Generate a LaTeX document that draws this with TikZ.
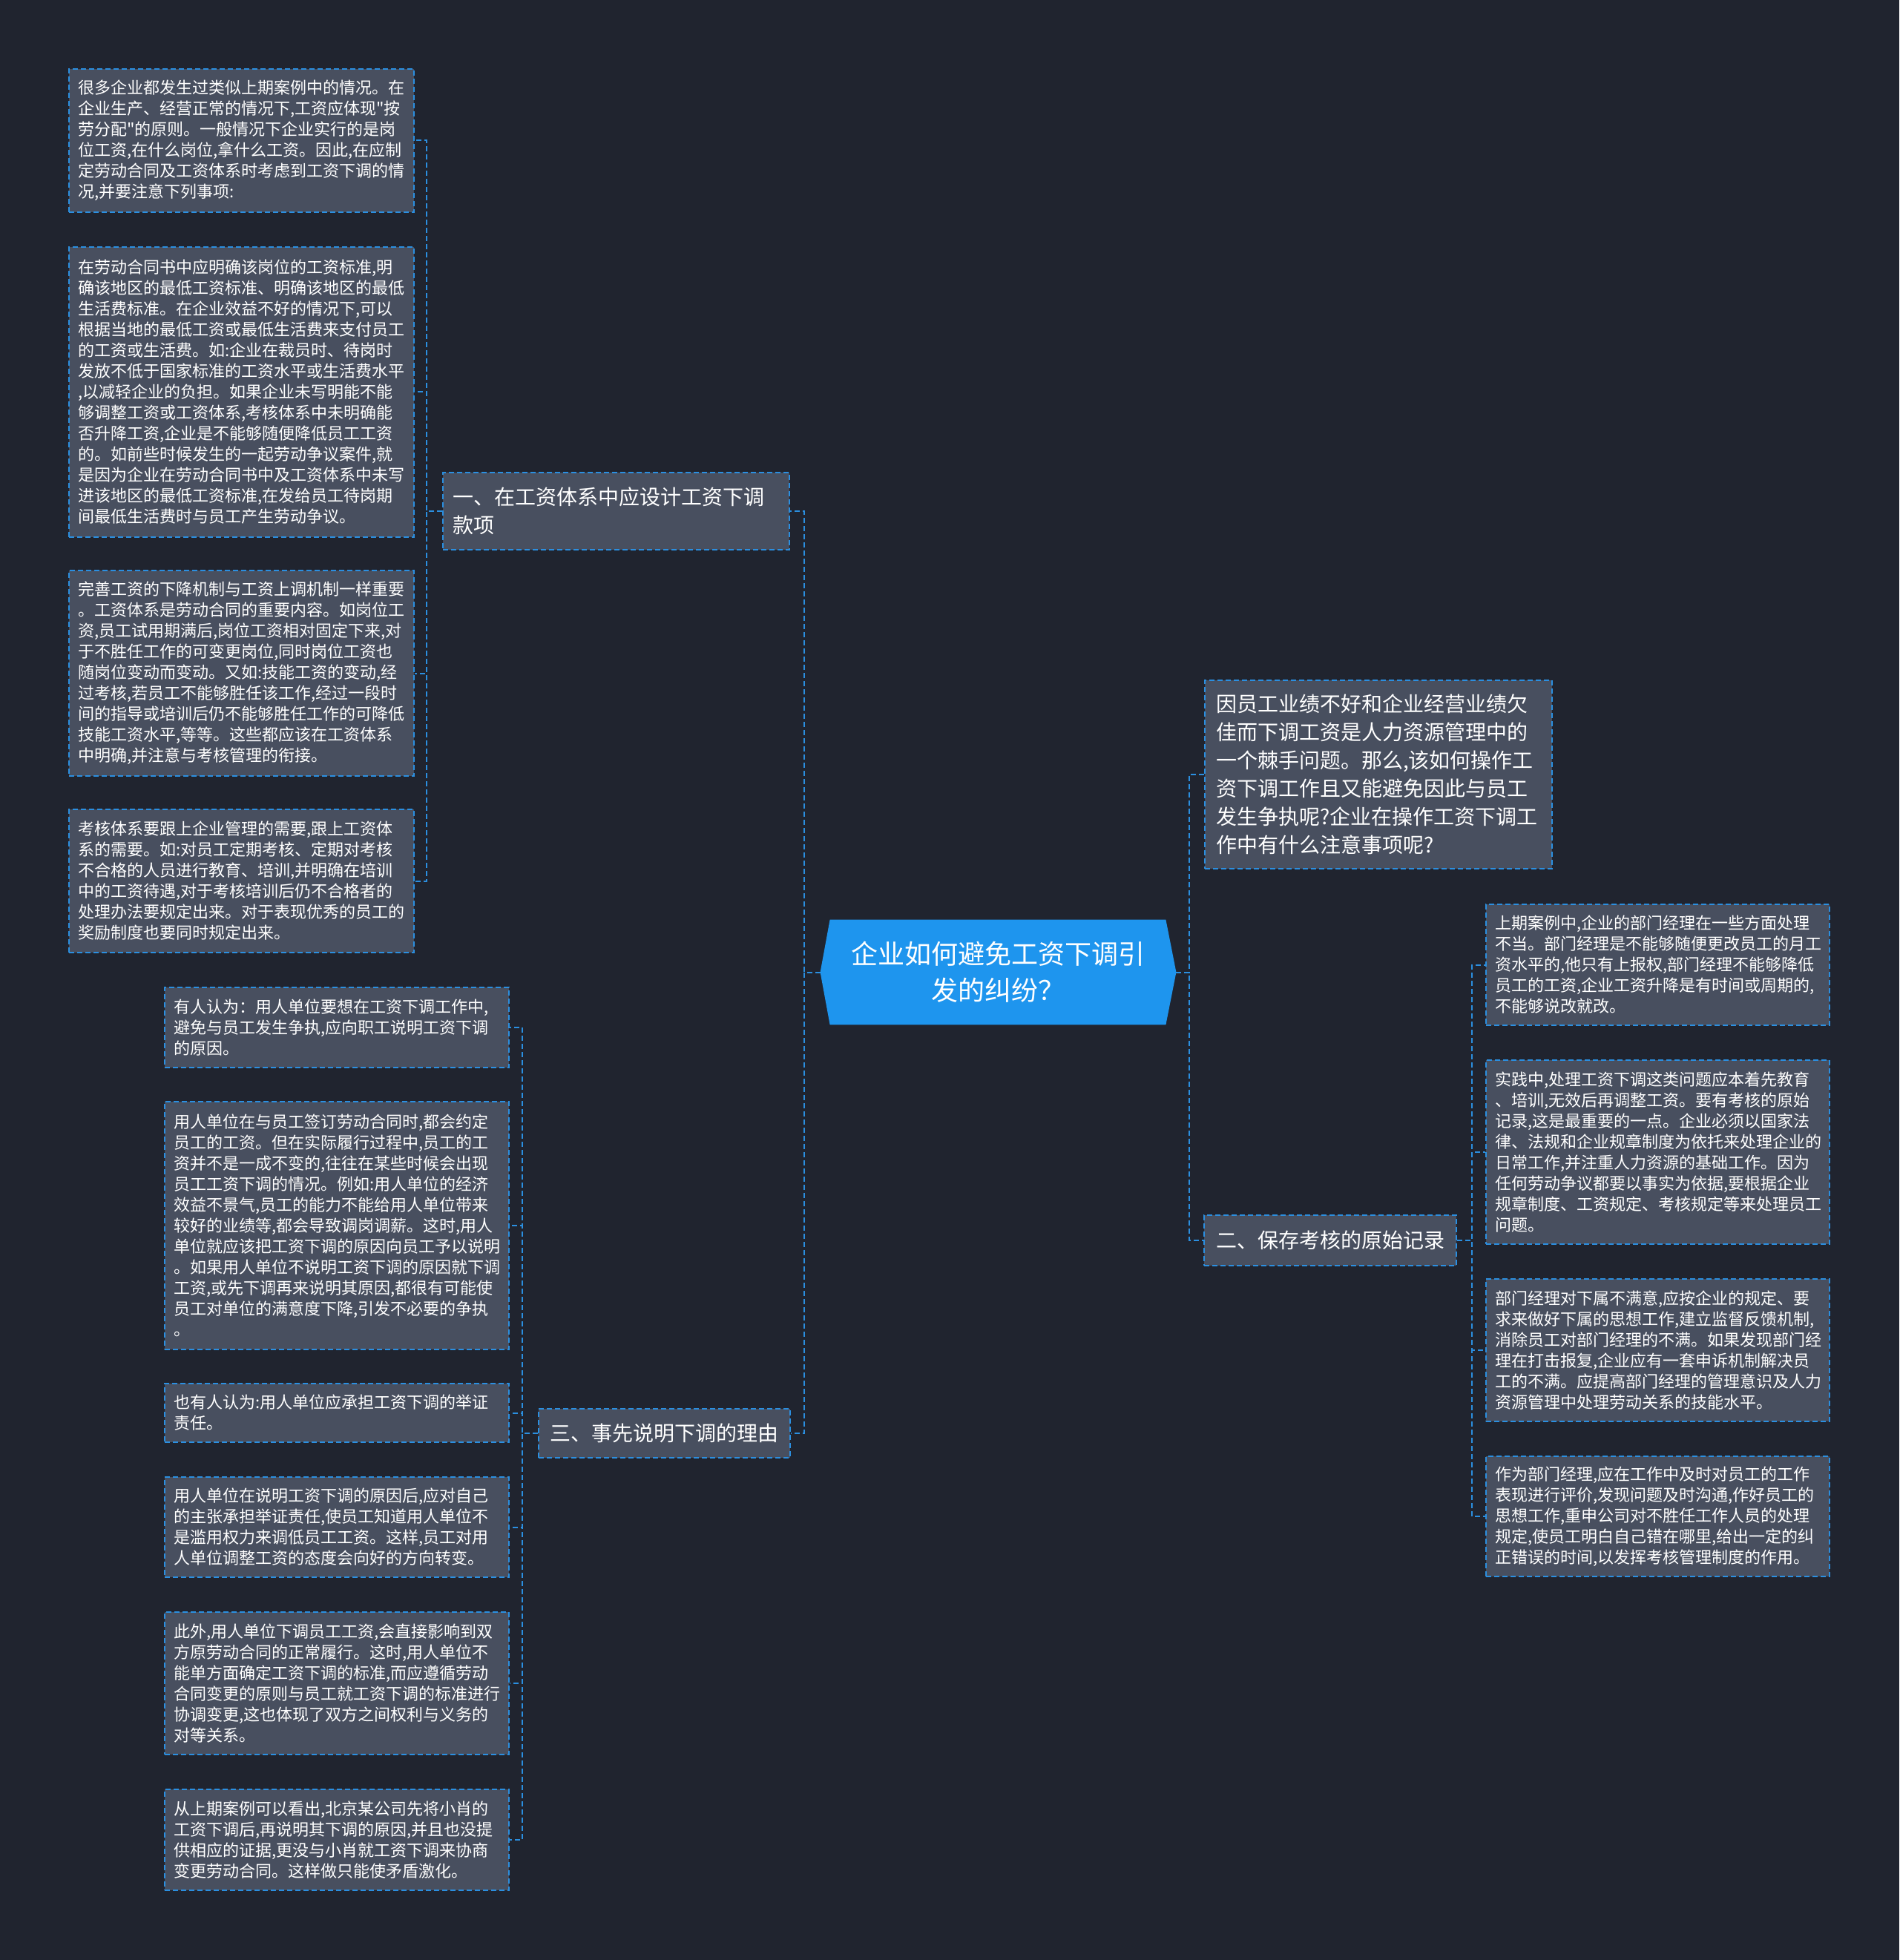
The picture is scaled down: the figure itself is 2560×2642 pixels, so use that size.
\documentclass[tikz,border=0pt]{standalone}
\usepackage{fontspec}
\setmainfont{Noto Sans CJK SC}
\newfontfamily\cjkfont{Noto Sans CJK SC}
\usetikzlibrary{backgrounds}
\definecolor{bgc}{HTML}{20242F}
\definecolor{nodefill}{HTML}{484F5F}
\definecolor{dashblue}{HTML}{2B8FE0}
\definecolor{rootblue}{HTML}{1E95EE}
\begin{document}
\begin{tikzpicture}[x=0.5pt,y=-0.5pt,
  dashline/.style={draw=dashblue, line width=1pt, dash pattern=on 3.5pt off 2pt},
  boxbase/.style={dashline, fill=nodefill, text=white, inner ysep=0pt},
  leaf/.style={boxbase, align=left, inner xsep=6pt, text width=220.5pt, font=\cjkfont\fontsize{11pt}{14pt}\selectfont},
  midbox/.style={boxbase, align=left, font=\cjkfont\fontsize{14pt}{19pt}\selectfont},
  conn/.style={dashline},
  rootn/.style={align=center, text=white, inner sep=0pt, minimum width=239.5pt, minimum height=70.5pt, font=\cjkfont\fontsize{18pt}{24.5pt}\selectfont}
]
% root
\node[rootn] (root) at (1345.5,1310.5) {企业如何避免工资下调引\\发的纠纷？};
\begin{pgfonlayer}{background}
\fill[bgc] (0,0) rectangle (2560,2642);
\fill[rootblue] ([xshift=6.5pt]root.north west) -- ([xshift=-7pt]root.north east) -- (root.east) -- ([xshift=-7pt]root.south east) -- ([xshift=6.5pt]root.south west) -- (root.west) -- cycle;
\end{pgfonlayer}

% trunk x positions
\coordinate (tL) at (1084,0);
\coordinate (tR) at (1603,0);
\coordinate (t1) at (575,0);
\coordinate (t3) at (704,0);
\coordinate (t2) at (1984,0);

% branches
\node[midbox, inner xsep=6.5pt, text width=220.5pt, minimum height=52pt] (b1) at (830.5,689) {一、在工资体系中应设计工资下调\\款项};
\node[midbox, align=center, inner xsep=0pt, minimum width=169.5pt, minimum height=33pt] (b3) at (895.5,1932) {三、事先说明下调的理由};
\node[midbox, align=center, inner xsep=0pt, minimum width=170pt, minimum height=34pt] (b2) at (1793,1672) {二、保存考核的原始记录};
\node[midbox, inner xsep=7.5pt, text width=219pt, minimum height=127pt] (tq) at (1858,1044) {因员工业绩不好和企业经营业绩欠\\佳而下调工资是人力资源管理中的\\一个棘手问题。那么,该如何操作工\\资下调工作且又能避免因此与员工\\发生争执呢?企业在操作工资下调工\\作中有什么注意事项呢?};

% branch 1 children
\node[leaf, minimum height=96.5pt] (l1) at (325.5,189.5) {很多企业都发生过类似上期案例中的情况。在\\企业生产、经营正常的情况下,工资应体现"按\\劳分配"的原则。一般情况下企业实行的是岗\\位工资,在什么岗位,拿什么工资。因此,在应制\\定劳动合同及工资体系时考虑到工资下调的情\\况,并要注意下列事项:};
\node[leaf, minimum height=195.5pt] (l2) at (325.5,528.5) {在劳动合同书中应明确该岗位的工资标准,明\\确该地区的最低工资标准、明确该地区的最低\\生活费标准。在企业效益不好的情况下,可以\\根据当地的最低工资或最低生活费来支付员工\\的工资或生活费。如:企业在裁员时、待岗时\\发放不低于国家标准的工资水平或生活费水平\\,以减轻企业的负担。如果企业未写明能不能\\够调整工资或工资体系,考核体系中未明确能\\否升降工资,企业是不能够随便降低员工工资\\的。如前些时候发生的一起劳动争议案件,就\\是因为企业在劳动合同书中及工资体系中未写\\进该地区的最低工资标准,在发给员工待岗期\\间最低生活费时与员工产生劳动争议。};
\node[leaf, minimum height=138.5pt] (l3) at (325.5,907.5) {完善工资的下降机制与工资上调机制一样重要\\。工资体系是劳动合同的重要内容。如岗位工\\资,员工试用期满后,岗位工资相对固定下来,对\\于不胜任工作的可变更岗位,同时岗位工资也\\随岗位变动而变动。又如:技能工资的变动,经\\过考核,若员工不能够胜任该工作,经过一段时\\间的指导或培训后仍不能够胜任工作的可降低\\技能工资水平,等等。这些都应该在工资体系\\中明确,并注意与考核管理的衔接。};
\node[leaf, minimum height=96.5pt] (l4) at (325.5,1187.5) {考核体系要跟上企业管理的需要,跟上工资体\\系的需要。如:对员工定期考核、定期对考核\\不合格的人员进行教育、培训,并明确在培训\\中的工资待遇,对于考核培训后仍不合格者的\\处理办法要规定出来。对于表现优秀的员工的\\奖励制度也要同时规定出来。};

% branch 3 children
\node[leaf, text width=220pt, minimum height=54pt] (m1) at (454,1385) {有人认为：用人单位要想在工资下调工作中,\\避免与员工发生争执,应向职工说明工资下调\\的原因。};
\node[leaf, text width=220pt, minimum height=167pt] (m2) at (454,1652) {用人单位在与员工签订劳动合同时,都会约定\\员工的工资。但在实际履行过程中,员工的工\\资并不是一成不变的,往往在某些时候会出现\\员工工资下调的情况。例如:用人单位的经济\\效益不景气,员工的能力不能给用人单位带来\\较好的业绩等,都会导致调岗调薪。这时,用人\\单位就应该把工资下调的原因向员工予以说明\\。如果用人单位不说明工资下调的原因就下调\\工资,或先下调再来说明其原因,都很有可能使\\员工对单位的满意度下降,引发不必要的争执\\。};
\node[leaf, text width=220pt, minimum height=39.5pt] (m3) at (454,1904.5) {也有人认为:用人单位应承担工资下调的举证\\责任。};
\node[leaf, text width=220pt, minimum height=67.5pt] (m4) at (454,2058.5) {用人单位在说明工资下调的原因后,应对自己\\的主张承担举证责任,使员工知道用人单位不\\是滥用权力来调低员工工资。这样,员工对用\\人单位调整工资的态度会向好的方向转变。};
\node[leaf, text width=220pt, minimum height=96pt] (m5) at (454,2269) {此外,用人单位下调员工工资,会直接影响到双\\方原劳动合同的正常履行。这时,用人单位不\\能单方面确定工资下调的标准,而应遵循劳动\\合同变更的原则与员工就工资下调的标准进行\\协调变更,这也体现了双方之间权利与义务的\\对等关系。};
\node[leaf, text width=220pt, minimum height=68pt] (m6) at (454,2480) {从上期案例可以看出,北京某公司先将小肖的\\工资下调后,再说明其下调的原因,并且也没提\\供相应的证据,更没与小肖就工资下调来协商\\变更劳动合同。这样做只能使矛盾激化。};

% branch 2 children
\node[leaf, text width=219.5pt, minimum height=81.5pt] (r1) at (2234.5,1300.5) {上期案例中,企业的部门经理在一些方面处理\\不当。部门经理是不能够随便更改员工的月工\\资水平的,他只有上报权,部门经理不能够降低\\员工的工资,企业工资升降是有时间或周期的,\\不能够说改就改。};
\node[leaf, text width=219.5pt, minimum height=124pt] (r2) at (2234.5,1553) {实践中,处理工资下调这类问题应本着先教育\\、培训,无效后再调整工资。要有考核的原始\\记录,这是最重要的一点。企业必须以国家法\\律、法规和企业规章制度为依托来处理企业的\\日常工作,并注重人力资源的基础工作。因为\\任何劳动争议都要以事实为依据,要根据企业\\规章制度、工资规定、考核规定等来处理员工\\问题。};
\node[leaf, text width=219.5pt, minimum height=96pt] (r3) at (2234.5,1820) {部门经理对下属不满意,应按企业的规定、要\\求来做好下属的思想工作,建立监督反馈机制,\\消除员工对部门经理的不满。如果发现部门经\\理在打击报复,企业应有一套申诉机制解决员\\工的不满。应提高部门经理的管理意识及人力\\资源管理中处理劳动关系的技能水平。};
\node[leaf, text width=219.5pt, minimum height=81pt] (r4) at (2234.5,2044) {作为部门经理,应在工作中及时对员工的工作\\表现进行评价,发现问题及时沟通,作好员工的\\思想工作,重申公司对不胜任工作人员的处理\\规定,使员工明白自己错在哪里,给出一定的纠\\正错误的时间,以发挥考核管理制度的作用。};

% connectors: root
\foreach \c in {b1,b3} \draw[conn] (root.west) -- (root.west -| tL) |- (\c.east);
\foreach \c in {tq,b2} \draw[conn] (root.east) -- (root.east -| tR) |- (\c.west);
% branch 1
\foreach \c in {l1,l2,l3,l4} \draw[conn] (b1.west) -- (b1.west -| t1) |- (\c.east);
% branch 3
\foreach \c in {m1,m2,m3,m4,m5,m6} \draw[conn] (b3.west) -- (b3.west -| t3) |- (\c.east);
% branch 2
\foreach \c in {r1,r2,r3,r4} \draw[conn] (b2.east) -- (b2.east -| t2) |- (\c.west);
\end{tikzpicture}
\end{document}
